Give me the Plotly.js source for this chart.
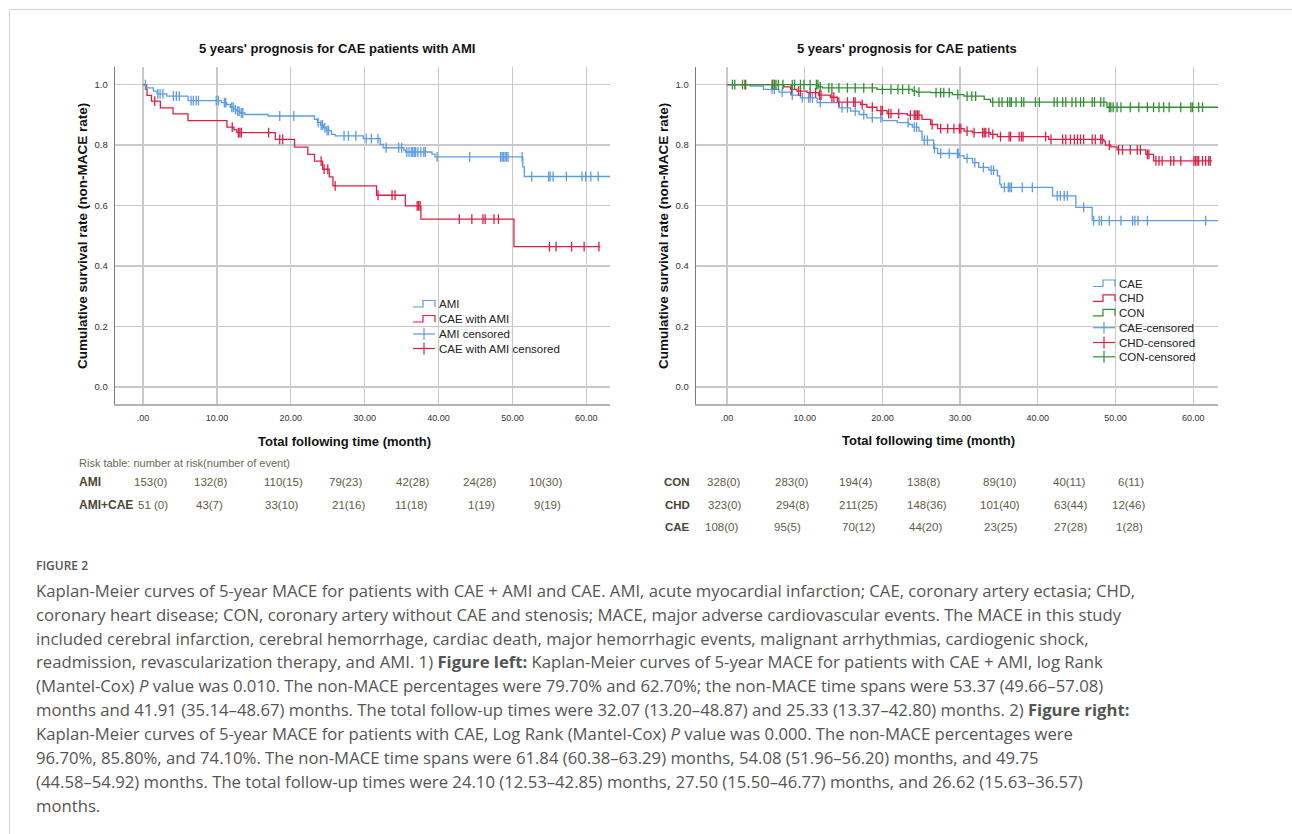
<!DOCTYPE html>
<html><head><meta charset="utf-8">
<script src="https://cdn.plot.ly/plotly-3.0.1.min.js"></script>
<style>html,body{margin:0;padding:0;background:#fff;} #chart{width:1292px;height:834px;}</style>
</head><body><div id="chart"></div>
<script>
// ---------------- DATA ----------------
const xTickVals = [0, 10, 20, 30, 40, 50, 60];
const xTickText = ['.00', '10.00', '20.00', '30.00', '40.00', '50.00', '60.00'];
const yTickVals = [0, 0.2, 0.4, 0.6, 0.8, 1.0];
const yTickText = ['0.0', '0.2', '0.4', '0.6', '0.8', '1.0'];

const leftTitle = "5 years' prognosis for CAE patients with AMI";
const rightTitle = "5 years' prognosis for CAE patients";
const xTitle = 'Total following time (month)';
const yTitle = 'Cumulative survival rate (non-MACE rate)';

// Left: AMI
const amiEventT = [0.5, 1.4, 1.9, 3.2, 6.1, 10.6, 11.3, 11.8, 12.3, 12.7, 13.1, 13.8, 16.9, 23.2, 23.6, 24.0, 24.4, 24.8, 25.5, 26.0, 29.8, 32.1, 32.5, 35.3, 35.5, 39.1, 39.5, 51.4, 51.6];
const amiEventS = [0.989, 0.978, 0.969, 0.962, 0.947, 0.940, 0.934, 0.925, 0.917, 0.912, 0.906, 0.901, 0.896, 0.885, 0.875, 0.866, 0.857, 0.848, 0.835, 0.830, 0.821, 0.802, 0.791, 0.783, 0.777, 0.770, 0.761, 0.728, 0.696];
const amiEndT = 63.3;
const amiCensT = [0.3, 2.0, 2.3, 2.7, 4.1, 4.5, 4.9, 6.5, 6.8, 7.2, 7.5, 9.9, 10.2, 11.0, 11.2, 12.0, 12.2, 12.5, 12.8, 13.0, 13.3, 13.5, 18.5, 20.4, 23.7, 24.1, 24.3, 24.6, 24.9, 25.1, 27.2, 27.8, 28.8, 30.2, 30.9, 31.8, 32.9, 34.6, 35.0, 35.7, 36.0, 36.3, 36.5, 36.7, 36.9, 37.2, 37.6, 38.0, 38.2, 39.8, 44.2, 48.4, 48.6, 48.8, 49.0, 49.2, 49.4, 51.3, 52.6, 54.9, 55.1, 55.5, 57.3, 59.4, 59.9, 60.6, 61.6];

// Left: CAE with AMI
const caeAmiEventT = [0.36, 0.54, 1.13, 2.34, 4.05, 6.08, 11.35, 12.3, 12.7, 17.9, 20.5, 22.3, 23.2, 24.3, 25.2, 25.7, 31.6, 35.5, 37.6, 50.2];
const caeAmiEventS = [0.984, 0.964, 0.945, 0.923, 0.903, 0.881, 0.859, 0.850, 0.841, 0.819, 0.793, 0.769, 0.747, 0.720, 0.695, 0.665, 0.634, 0.599, 0.555, 0.464];
const caeAmiEndT = 61.9;
const caeAmiCensT = [1.58, 12.07, 12.9, 13.1, 13.3, 17.0, 18.5, 18.9, 24.1, 24.5, 25.0, 26.0, 31.8, 33.7, 34.1, 37.1, 37.3, 37.5, 42.8, 44.5, 46.0, 46.3, 47.5, 48.1, 55.0, 55.9, 58.0, 59.7, 61.7];

// Right: CAE
const caeEventT = [3.0, 4.7, 6.7, 8.2, 9.45, 11.6, 14.4, 15.9, 17.0, 18.0, 20.0, 21.9, 23.4, 23.85, 24.7, 25.1, 26.6, 27.1, 29.9, 30.5, 31.6, 32.4, 33.7, 34.8, 35.1, 35.3, 41.9, 44.9, 47.0];
const caeEventS = [0.995, 0.984, 0.975, 0.965, 0.956, 0.940, 0.923, 0.912, 0.901, 0.890, 0.881, 0.874, 0.868, 0.859, 0.846, 0.816, 0.789, 0.772, 0.764, 0.756, 0.742, 0.726, 0.717, 0.698, 0.671, 0.660, 0.632, 0.594, 0.550];
const caeEndT = 63.3;
const caeCensT = [5.8, 6.1, 7.1, 8.4, 9.7, 10.5, 10.7, 11.0, 12.0, 14.8, 15.5, 16.5, 17.6, 18.7, 19.8, 23.3, 24.1, 24.4, 25.4, 25.8, 26.7, 27.5, 28.6, 29.65, 29.75, 30.9, 31.9, 33.0, 34.0, 34.3, 35.7, 36.2, 36.4, 36.6, 38.0, 39.3, 42.5, 42.9, 43.4, 43.8, 45.9, 47.2, 47.9, 48.2, 49.2, 50.7, 52.2, 52.5, 52.9, 54.1, 61.6];

// Right: CHD
const chdEventT = [7.3, 8.2, 9.0, 10.3, 11.8, 13.3, 14.2, 17.2, 18.0, 19.3, 20.6, 23.2, 25.1, 26.2, 27.1, 30.5, 31.6, 33.9, 34.8, 41.4, 48.5, 48.7, 49.4, 50.2, 53.9, 54.9];
const chdEventS = [0.992, 0.984, 0.978, 0.973, 0.965, 0.958, 0.942, 0.934, 0.925, 0.914, 0.904, 0.899, 0.885, 0.868, 0.854, 0.846, 0.841, 0.835, 0.828, 0.819, 0.813, 0.800, 0.794, 0.784, 0.769, 0.748];
const chdEndT = 62.4;
const chdCensT = [2.4, 5.9, 8.3, 9.2, 9.45, 10.7, 11.4, 11.9, 12.1, 13.5, 13.75, 14.4, 15.5, 16.3, 16.5, 17.4, 18.7, 19.8, 20.0, 20.8, 21.1, 22.1, 23.6, 24.1, 24.3, 24.5, 24.7, 26.4, 27.5, 28.4, 29.2, 29.9, 30.1, 30.9, 31.8, 32.9, 33.1, 33.3, 33.7, 34.2, 35.2, 36.3, 36.5, 37.6, 37.9, 38.1, 41.0, 41.7, 43.2, 43.6, 44.2, 44.7, 45.1, 45.5, 45.9, 47.0, 47.4, 48.1, 48.3, 49.2, 50.4, 50.9, 51.9, 52.8, 53.2, 54.1, 54.3, 55.2, 55.6, 56.0, 57.1, 57.5, 58.4, 60.1, 60.3, 60.5, 60.7, 61.2, 61.6, 62.0, 62.2];

// Right: CON
const conEventT = [11.8, 12.3, 19.3, 23.85, 24.4, 26.2, 29.0, 30.5, 33.1, 33.9, 48.9];
const conEventS = [0.992, 0.989, 0.984, 0.978, 0.975, 0.973, 0.967, 0.962, 0.951, 0.942, 0.925];
const conEndT = 63.3;
const conCensT = [0.7, 1.0, 2.0, 2.3, 5.8, 6.1, 6.3, 6.6, 7.2, 8.4, 8.7, 9.45, 9.9, 10.7, 11.5, 11.7, 12.0, 13.1, 13.5, 14.4, 15.5, 16.5, 17.6, 18.7, 20.0, 21.1, 22.0, 22.6, 23.4, 24.1, 24.7, 26.9, 27.5, 27.9, 28.6, 29.7, 30.9, 31.5, 32.0, 34.2, 35.0, 35.4, 36.1, 36.4, 36.6, 37.2, 37.9, 38.2, 39.7, 40.2, 42.1, 42.5, 43.2, 43.6, 44.4, 44.9, 45.5, 45.9, 47.0, 47.3, 48.1, 48.5, 49.2, 49.4, 49.7, 50.2, 50.7, 51.9, 53.0, 54.1, 54.9, 55.6, 56.2, 56.9, 58.4, 59.7, 59.9, 60.7, 61.2];

// Legends
const leftLegendNames = ['AMI', 'CAE with AMI', 'AMI censored', 'CAE with AMI censored'];
const rightLegendNames = ['CAE', 'CHD', 'CON', 'CAE-censored', 'CHD-censored', 'CON-censored'];

// Risk tables
const riskTableTitle = 'Risk table: number at risk(number of event)';
const leftRiskRowLabels = ['AMI', 'AMI+CAE'];
const leftRiskAMI = ['153(0)', '132(8)', '110(15)', '79(23)', '42(28)', '24(28)', '10(30)'];
const leftRiskAMICAE = ['51 (0)', '43(7)', '33(10)', '21(16)', '11(18)', '1(19)', '9(19)'];
const rightRiskRowLabels = ['CON', 'CHD', 'CAE'];
const rightRiskCON = ['328(0)', '283(0)', '194(4)', '138(8)', '89(10)', '40(11)', '6(11)'];
const rightRiskCHD = ['323(0)', '294(8)', '211(25)', '148(36)', '101(40)', '63(44)', '12(46)'];
const rightRiskCAE = ['108(0)', '95(5)', '70(12)', '44(20)', '23(25)', '27(28)', '1(28)'];

// Caption
const figureLabel = 'FIGURE 2';
const captionLines = [
  'Kaplan-Meier curves of 5-year MACE for patients with CAE + AMI and CAE. AMI, acute myocardial infarction; CAE, coronary artery ectasia; CHD,',
  'coronary heart disease; CON, coronary artery without CAE and stenosis; MACE, major adverse cardiovascular events. The MACE in this study',
  'included cerebral infarction, cerebral hemorrhage, cardiac death, major hemorrhagic events, malignant arrhythmias, cardiogenic shock,',
  'readmission, revascularization therapy, and AMI. 1) <b>Figure left:</b> Kaplan-Meier curves of 5-year MACE for patients with CAE + AMI, log Rank',
  '(Mantel-Cox) <i>P</i> value was 0.010. The non-MACE percentages were 79.70% and 62.70%; the non-MACE time spans were 53.37 (49.66–57.08)',
  'months and 41.91 (35.14–48.67) months. The total follow-up times were 32.07 (13.20–48.87) and 25.33 (13.37–42.80) months. 2) <b>Figure right:</b>',
  'Kaplan-Meier curves of 5-year MACE for patients with CAE, Log Rank (Mantel-Cox) <i>P</i> value was 0.000. The non-MACE percentages were',
  '96.70%, 85.80%, and 74.10%. The non-MACE time spans were 61.84 (60.38–63.29) months, 54.08 (51.96–56.20) months, and 49.75',
  '(44.58–54.92) months. The total follow-up times were 24.10 (12.53–42.85) months, 27.50 (15.50–46.77) months, and 26.62 (15.63–36.57)',
  'months.'
];

// ---------------- STYLE / LAYOUT ----------------
const W = 1292, H = 834;
const PX = x => x / W;
const PY = y => 1 - y / H;
const BLUE = '#5b9ce4', RED = '#dd1f46', GREEN = '#2f8f32';
const CF = 'Arial, "Liberation Sans", sans-serif';
const TXT = '#5f5b47', LBL = '#4a4636';

function stepAt(T, S, t) {
  let v = 1;
  for (let i = 0; i < T.length; i++) { if (T[i] <= t) v = S[i]; }
  return v;
}
function curve(T, S, endT, color, xa, ya) {
  return {x: [0].concat(T, [endT]), y: [1].concat(S, [S[S.length - 1]]),
    mode: 'lines', line: {shape: 'hv', color: color, width: 1.3},
    xaxis: xa, yaxis: ya, hoverinfo: 'skip', showlegend: false};
}
function cens(C, T, S, color, xa, ya) {
  return {x: C, y: C.map(t => stepAt(T, S, t)), mode: 'markers',
    marker: {symbol: 'line-ns', size: 7, line: {color: color, width: 1.3}},
    xaxis: xa, yaxis: ya, hoverinfo: 'skip', showlegend: false};
}

const traces = [
  curve(amiEventT, amiEventS, amiEndT, BLUE, 'x', 'y'),
  curve(caeAmiEventT, caeAmiEventS, caeAmiEndT, RED, 'x', 'y'),
  cens(amiCensT, amiEventT, amiEventS, BLUE, 'x', 'y'),
  cens(caeAmiCensT, caeAmiEventT, caeAmiEventS, RED, 'x', 'y'),
  curve(caeEventT, caeEventS, caeEndT, BLUE, 'x2', 'y2'),
  curve(chdEventT, chdEventS, chdEndT, RED, 'x2', 'y2'),
  curve(conEventT, conEventS, conEndT, GREEN, 'x2', 'y2'),
  cens(caeCensT, caeEventT, caeEventS, BLUE, 'x2', 'y2'),
  cens(chdCensT, chdEventT, chdEventS, RED, 'x2', 'y2'),
  cens(conCensT, conEventT, conEventS, GREEN, 'x2', 'y2')
];

function xAxis(dom, range, anchor) {
  return {domain: dom, range: range, anchor: anchor, tickvals: xTickVals, ticktext: xTickText,
    showgrid: true, gridcolor: '#c9c9c9', gridwidth: 1.3, zeroline: false,
    showline: true, linecolor: '#b3b3b3', linewidth: 2, ticks: '',
    tickfont: {family: CF, size: 9, color: '#333'}, ticklabelstandoff: 4, fixedrange: true};
}
function yAxis(dom, anchor) {
  return {domain: dom, range: [-0.056, 1.058], anchor: anchor, tickvals: yTickVals, ticktext: yTickText,
    showgrid: true, gridcolor: '#c9c9c9', gridwidth: 1.3, zeroline: false,
    showline: true, linecolor: '#7a7a7a', linewidth: 1.3, ticks: '',
    tickfont: {family: CF, size: 9.5, color: '#333'}, ticklabelstandoff: 4, fixedrange: true};
}
const yDom = [PY(404), PY(67)];

const ann = [];
function txt(x, y, text, opt) {
  opt = opt || {};
  ann.push({xref: 'paper', yref: 'paper', x: PX(x), y: PY(y), text: text, showarrow: false,
    xanchor: opt.xa || 'center', yanchor: 'middle', textangle: opt.rot || 0,
    font: {family: opt.fam || CF, size: opt.size || 11, color: opt.color || '#222', weight: opt.weight || 'normal'}});
}
// Titles
txt(337, 49, '<b>' + leftTitle + '</b>', {size: 13, color: '#111'});
txt(907, 49, '<b>' + rightTitle + '</b>', {size: 13, color: '#111'});
txt(344, 441, '<b>' + xTitle + '</b>', {size: 13, color: '#111'});
txt(928, 440, '<b>' + xTitle + '</b>', {size: 13, color: '#111'});
txt(82, 236, '<b>' + yTitle + '</b>', {size: 13.5, color: '#111', rot: -90});
txt(663, 236, '<b>' + yTitle + '</b>', {size: 13.5, color: '#111', rot: -90});

// Legends
const shapes = [];
function stepGlyph(x0, yc, color) {
  shapes.push({type: 'path', xref: 'paper', yref: 'paper',
    path: `M ${PX(x0)},${PY(yc + 3)} H ${PX(x0 + 10)} V ${PY(yc - 3.5)} H ${PX(x0 + 22)} V ${PY(yc + 3)}`,
    line: {color: color, width: 1.2}});
}
function censGlyph(x0, yc, color) {
  shapes.push({type: 'line', xref: 'paper', yref: 'paper', x0: PX(x0), x1: PX(x0 + 22), y0: PY(yc), y1: PY(yc), line: {color: color, width: 1.2}});
  shapes.push({type: 'line', xref: 'paper', yref: 'paper', x0: PX(x0 + 11), x1: PX(x0 + 11), y0: PY(yc - 6), y1: PY(yc + 6), line: {color: color, width: 1.2}});
}
const leftLegY = [304, 319, 334, 348.5];
const leftLegCol = [BLUE, RED, BLUE, RED];
leftLegendNames.forEach((n, i) => {
  if (i < 2) stepGlyph(413, leftLegY[i], leftLegCol[i]); else censGlyph(413, leftLegY[i], leftLegCol[i]);
  txt(437, leftLegY[i], n, {xa: 'left', size: 11.5, color: '#222'});
});
const rightLegY = [283.5, 298.3, 312.8, 327.7, 342.5, 356.8];
const rightLegCol = [BLUE, RED, GREEN, BLUE, RED, GREEN];
rightLegendNames.forEach((n, i) => {
  if (i < 3) stepGlyph(1093, rightLegY[i], rightLegCol[i]); else censGlyph(1093, rightLegY[i], rightLegCol[i]);
  txt(1117, rightLegY[i], n, {xa: 'left', size: 11.5, color: '#222'});
});

// Risk tables
txt(77, 463, riskTableTitle, {xa: 'left', size: 11, color: '#6d6852'});
const leftRowY = [482, 505];
const leftColX = [[150, 210, 283, 345.5, 412, 479, 545.5], [153, 209, 281.5, 348.5, 411.5, 482, 547.5]];
[leftRiskAMI, leftRiskAMICAE].forEach((row, r) => {
  txt(77, leftRowY[r], '<b>' + leftRiskRowLabels[r] + '</b>', {xa: 'left', size: 12, color: LBL});
  row.forEach((v, c) => txt(leftColX[r][c], leftRowY[r], v, {size: 11.5, color: TXT}));
});
const rightRowY = [482, 504.5, 527];
const rightColX = [[723, 791, 855, 923, 999, 1069, 1131], [724, 792, 858, 927, 1000, 1070, 1128], [721, 787, 858, 926, 1000, 1070, 1129]];
[rightRiskCON, rightRiskCHD, rightRiskCAE].forEach((row, r) => {
  txt(677, rightRowY[r], '<b>' + rightRiskRowLabels[r] + '</b>', {size: 11.5, color: LBL});
  row.forEach((v, c) => txt(rightColX[r][c], rightRowY[r], v, {size: 11.5, color: TXT}));
});

// Caption
const CAPF = '"Open Sans", "Noto Sans", sans-serif';
txt(34, 565, figureLabel, {xa: 'left', size: 12, color: '#555', fam: CAPF, weight: 600});
const capY = [590, 614, 638, 661.5, 685.5, 709.5, 733.5, 757.5, 781.5, 805.5];
captionLines.forEach((l, i) => txt(34, capY[i], l, {xa: 'left', size: 16.7, color: '#555', fam: CAPF}));

// Frame border
shapes.push({type: 'line', xref: 'paper', yref: 'paper', x0: PX(9.5), x1: PX(1292), y0: PY(9.5), y1: PY(9.5), line: {color: '#d2d2d2', width: 1}});
shapes.push({type: 'line', xref: 'paper', yref: 'paper', x0: PX(9.5), x1: PX(9.5), y0: PY(9.5), y1: PY(834), line: {color: '#d2d2d2', width: 1}});

const layout = {
  width: W, height: H, margin: {l: 0, r: 0, t: 0, b: 0},
  paper_bgcolor: '#fff', plot_bgcolor: '#fff', showlegend: false,
  xaxis: xAxis([PX(115), PX(610)], [-3.8, 63.2], 'y'),
  yaxis: yAxis(yDom, 'x'),
  xaxis2: xAxis([PX(696), PX(1218)], [-3.99, 63.19], 'y2'),
  yaxis2: yAxis(yDom, 'x2'),
  annotations: ann, shapes: shapes
};
Plotly.newPlot('chart', traces, layout, {displayModeBar: false, staticPlot: true});
</script></body></html>
